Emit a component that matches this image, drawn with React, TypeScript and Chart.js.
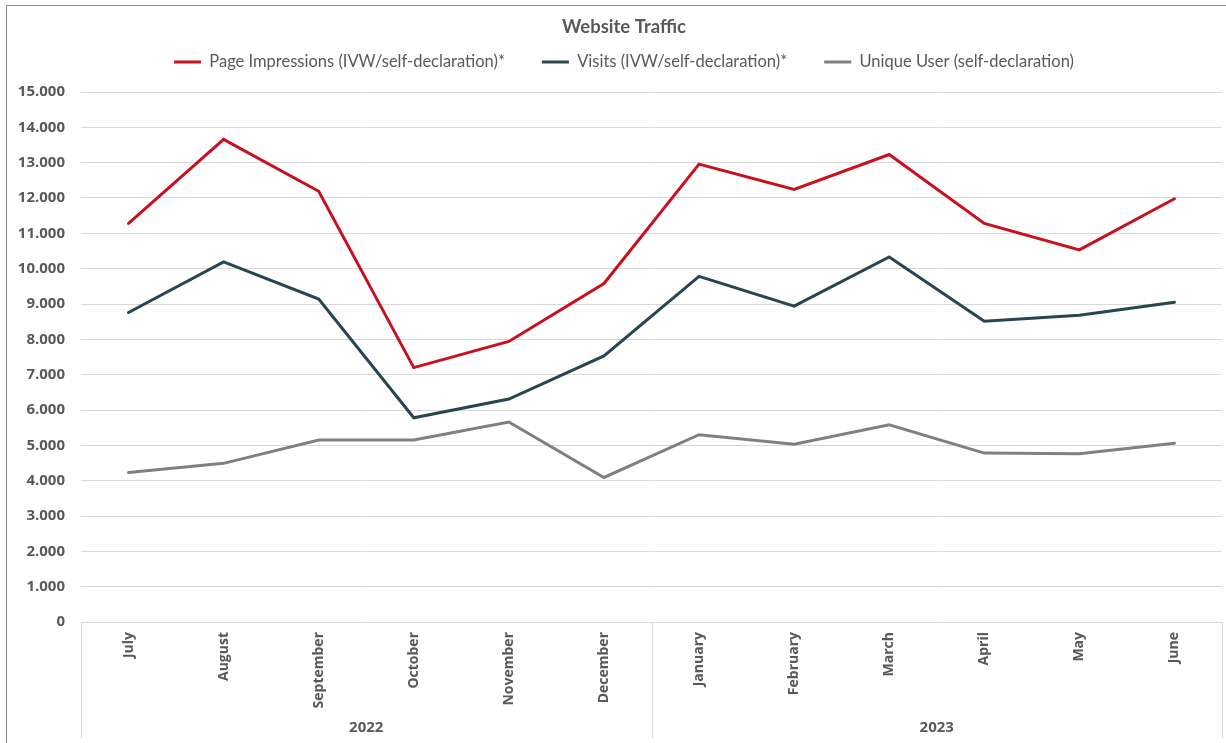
import React, { useEffect, useRef } from "react";
import { Chart, registerables } from "chart.js";

Chart.register(...registerables);

const chartTitle = "Website Traffic";
const months = ["July", "August", "September", "October", "November", "December", "January", "February", "March", "April", "May", "June"];
const yearLabels = ["2022", "2023"];
const yearSpans = [6, 6];
const seriesNames = ["Page Impressions (IVW/self-declaration)*", "Visits (IVW/self-declaration)*", "Unique User (self-declaration)"];
const pageImpressions = [11280, 13660, 12190, 7200, 7940, 9580, 12960, 12240, 13230, 11280, 10530, 11980];
const visits = [8760, 10190, 9140, 5780, 6310, 7530, 9780, 8940, 10330, 8510, 8680, 9050];
const uniqueUsers = [4230, 4490, 5150, 5150, 5660, 4090, 5300, 5030, 5580, 4780, 4760, 5060];
const seriesColors = ["#C8101E", "#264650", "#808080"];
const yMin = 0;
const yMax = 15000;
const yStep = 1000;

const textColor = "#595959";
const gridColor = "#D9D9D9";

const fmt = (v: number) => String(v).replace(/\B(?=(\d{3})+(?!\d))/g, ".");

const legendSpacer = {
  id: "legendSpacer",
  beforeInit(chart: any) {
    const legend = chart.legend;
    if (!legend) return;
    const orig = legend.fit;
    legend.fit = function () {
      orig.call(legend);
      legend.height += 11.75;
    };
  },
};

const groupSeparators = {
  id: "groupSeparators",
  afterDraw(chart: any) {
    const x = chart.scales.x;
    const x2 = chart.scales.x2;
    const area = chart.chartArea;
    const ctx = chart.ctx;
    const xs: number[] = [area.left];
    let idx = 0;
    for (let i = 0; i < yearSpans.length; i++) {
      idx += yearSpans[i];
      if (idx < months.length) {
        xs.push((x.getPixelForValue(idx - 1) + x.getPixelForValue(idx)) / 2);
      }
    }
    xs.push(area.right);
    ctx.save();
    ctx.strokeStyle = gridColor;
    ctx.lineWidth = 1;
    xs.forEach((px) => {
      const p = Math.round(px) + 0.5;
      ctx.beginPath();
      ctx.moveTo(p, area.bottom);
      ctx.lineTo(p, x2.bottom);
      ctx.stroke();
    });
    ctx.restore();
  },
};

export default function App() {
  const canvasRef = useRef<HTMLCanvasElement | null>(null);

  useEffect(() => {
    document.body.style.margin = "0";
    document.body.style.overflow = "hidden";
    const canvas = canvasRef.current;
    if (!canvas) return;
    const values = [pageImpressions, visits, uniqueUsers];
    const chart = new Chart(canvas, {
      type: "line",
      data: {
        labels: months,
        datasets: seriesNames.map((name, i) => ({
          label: name,
          data: values[i],
          borderColor: seriesColors[i],
          backgroundColor: seriesColors[i],
          borderWidth: 3,
          pointRadius: 0,
          pointHoverRadius: 0,
          tension: 0,
          fill: false,
          borderCapStyle: "round" as const,
          borderJoinStyle: "miter" as const,
          xAxisID: "x",
          yAxisID: "y",
        })),
      },
      options: {
        animation: false,
        responsive: true,
        maintainAspectRatio: false,
        layout: { padding: { left: 0, right: 0, top: 0, bottom: 8 } },
        plugins: {
          title: {
            display: true,
            text: chartTitle,
            color: textColor,
            font: { family: "Lato", size: 18.5, weight: "bold" },
            padding: { top: 9.9, bottom: -21.35 },
          },
          legend: {
            display: true,
            position: "top",
            labels: {
              color: textColor,
              font: { family: "Lato", size: 16.5 },
              usePointStyle: true,
              pointStyle: "line",
              pointStyleWidth: 27,
              padding: 37,
            },
          },
          tooltip: { enabled: false },
        },
        scales: {
          x: {
            type: "category",
            position: "bottom",
            offset: true,
            grid: { display: false, drawTicks: false },
            border: { display: false },
            ticks: {
              autoSkip: false,
              maxRotation: 90,
              minRotation: 90,
              padding: 10,
              color: textColor,
              font: { family: "Open Sans", size: 14, weight: "bold" },
            },
            afterFit: (s: any) => {
              s.height = 88;
            },
          },
          x2: {
            type: "category",
            position: "bottom",
            labels: yearLabels,
            offset: true,
            grid: { display: false, drawTicks: false },
            border: { display: false },
            ticks: {
              padding: 9,
              color: textColor,
              font: { family: "Open Sans", size: 15, weight: "bold" },
            },
            afterFit: (s: any) => {
              s.height = 28;
            },
          },
          y: {
            min: yMin,
            max: yMax,
            grid: { color: gridColor, drawTicks: false, lineWidth: 1 },
            border: { display: false },
            ticks: {
              stepSize: yStep,
              padding: 16,
              color: textColor,
              font: { family: "Open Sans", size: 15, weight: "bold" },
              callback: (v: any) => fmt(Number(v)),
            },
            afterFit: (s: any) => {
              s.width = 74;
            },
          },
          yRight: {
            position: "right",
            display: true,
            grid: { display: false, drawTicks: false },
            border: { display: false },
            ticks: { display: false },
            afterFit: (s: any) => {
              s.width = 19;
            },
          },
        },
      },
      plugins: [legendSpacer, groupSeparators],
    });
    return () => chart.destroy();
  }, []);

  return (
    <div
      style={{
        position: "absolute",
        left: 6,
        top: 5,
        border: "1px solid #8e8e8e",
        background: "#fff",
      }}
    >
      <div style={{ position: "relative", width: 1234, height: 740 }}>
        <canvas ref={canvasRef} />
      </div>
    </div>
  );
}
